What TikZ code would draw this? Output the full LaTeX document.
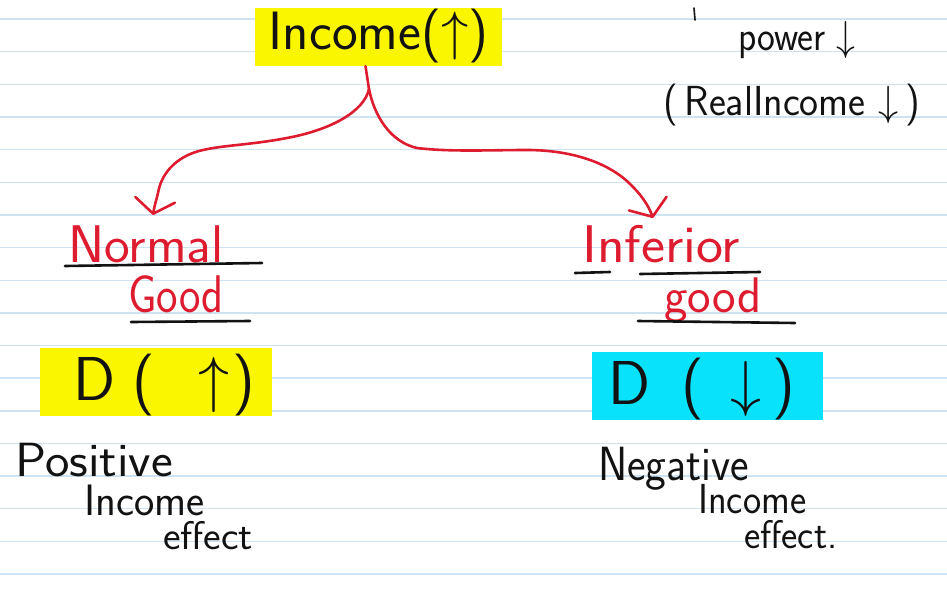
\RequirePackage{fix-cm}
\documentclass[tikz,border=0pt]{standalone}
\usepackage{graphicx}
\usetikzlibrary{arrows.meta}
\definecolor{rulec}{RGB}{206,226,242}
\definecolor{inkred}{RGB}{222,28,48}
\definecolor{ink}{RGB}{18,18,18}
\definecolor{hlyellow}{RGB}{250,246,0}
\definecolor{hlcyan}{RGB}{8,226,250}
\newcommand\hs[4]{\scalebox{#2}[#3]{\fontsize{#1}{#1}\selectfont #4}}
\newcommand\putat[2]{\rlap{\hspace{#1}#2}}
\tikzset{
  hw/.style={inner sep=0pt, text=ink, font=\sffamily, anchor=base west},
  hwred/.style={hw, text=inkred},
  uline/.style={draw=ink, line width=2.6pt, line cap=round},
  redline/.style={draw=inkred, line width=2.6pt, line cap=round, line join=round},
  redarrow/.style={redline, -{Straight Barb[length=14pt,width=40pt,round]}},
  rulel/.style={draw=rulec, line width=1.4pt},
  hlbox/.style={inner sep=0pt, font=\sffamily, text=ink, text height=52.5pt, text depth=15.5pt}
}
\begin{document}
\begin{tikzpicture}[x=1pt,y=-1pt]
\useasboundingbox (0,0) rectangle (947,589);
\fill[white] (0,0) rectangle (947,589);
% ruled paper
\foreach \k in {0,...,17} {
  \draw[rulel] (0,{19+32.65*\k}) -- (947,{19+32.65*\k});
}
% top highlighted node
\node[hlbox, fill=hlyellow, minimum width=247pt, text height=41.25pt, text depth=16.75pt] (inc) at (378.5,37)
  {\hs{54}{1.01}{1}{Income($\uparrow$)}};
% top right note
\draw[ink, line width=1.6pt, line cap=round] (694,8) -- (695,20);
\node[hw] (power) at (738,50) {\hs{42}{0.9}{1}{power\hspace{12pt}$\downarrow$}};
\node[hw] (real) at (663,115) {\hs{42}{0.96}{1}{(\,RealIncome $\downarrow$\,)}};
% branch labels
\node[hwred] (normal) at (68,262) {\hs{53}{1.03}{1}{Normal}};
\node[hwred] (good) at (128,312) {\hs{53}{0.86}{1}{Good}};
\node[hwred] (inferior) at (582,262) {\hs{53}{1.08}{1}{Inferior}};
\node[hwred] (igood) at (664,312) {\hs{50}{1}{1}{good}};
% underlines
\draw[uline] (65,266) -- (262,263);
\draw[uline] (131,322) -- (250,321);
\draw[uline] (575,273) -- (610,272);
\draw[uline] (640,274) -- (760,272);
\draw[uline] (638,321) -- (795,323);
% demand boxes
\node[hlbox, fill=hlyellow] (dup) at (156,382)
  {\fontsize{62}{62}\selectfont\makebox[232pt][l]{\putat{33pt}{D}\putat{93pt}{(}\putat{158pt}{$\uparrow$}\putat{192pt}{)}}};
\node[hlbox, fill=hlcyan] (ddown) at (707.5,386)
  {\fontsize{62}{62}\selectfont\makebox[231pt][l]{\putat{16pt}{D}\putat{90pt}{(}\putat{138pt}{$\downarrow$}\putat{180pt}{)}}};
% effects
\node[hw] (pos) at (15,476) {\hs{48}{1.08}{1}{Positive}};
\node[hw] (pinc) at (84,515) {\hs{44}{0.98}{1}{Income}};
\node[hw] (peff) at (163,549) {\hs{40}{1.05}{1}{effect}};
\node[hw] (neg) at (598,480) {\hs{48}{0.92}{1}{Negative}};
\node[hw] (ninc) at (698,513) {\hs{42}{0.92}{1}{Income}};
\node[hw] (neff) at (744,548) {\hs{40}{0.97}{1}{effect.}};
% connectors
\coordinate (split) at (369,89);
\coordinate (ltip) at (153,215);
\coordinate (rtip) at (653,218);
\draw[redline] ([xshift=-13pt]inc.south) -- (split);
\draw[redarrow] (split) .. controls (364,112) and (330,130) .. (287,138)
  .. controls (250,145) and (225,145) .. (203,150)
  .. controls (180,155) and (162,170) .. (158,193)
  .. controls (156,201) and (154,208) .. (ltip);
\draw[redarrow] (split) .. controls (374,115) and (390,142) .. (417,148)
  .. controls (450,152) and (490,150) .. (527,150)
  .. controls (570,150) and (610,162) .. (633,187)
  .. controls (643,197) and (649,207) .. (rtip);
\end{tikzpicture}
\end{document}
